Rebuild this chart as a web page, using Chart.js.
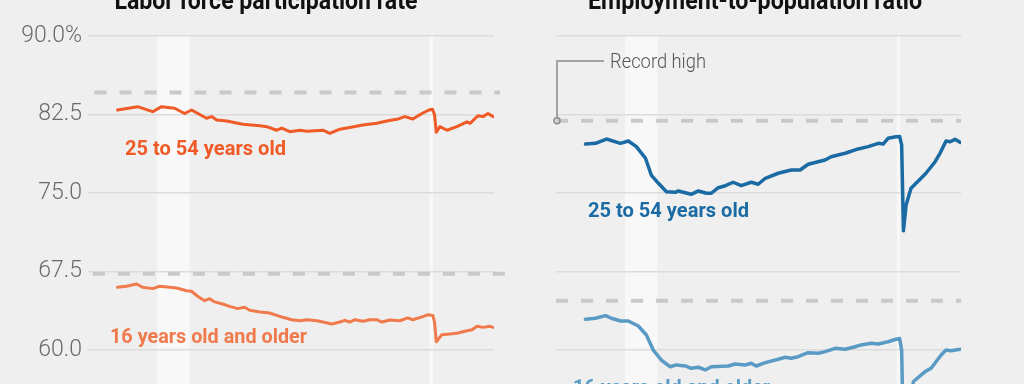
<!DOCTYPE html>
<html>
<head>
<meta charset="utf-8">
<title>Labor force participation and employment-to-population</title>
<script src="https://cdn.jsdelivr.net/npm/chart.js@4.4.1/dist/chart.umd.min.js"></script>
<style>
  html, body { margin: 0; padding: 0; background: #efefef; width: 1024px; height: 384px; overflow: hidden; }
  .panel { position: absolute; top: 0; width: 512px; height: 384px; }
  #left { left: 0; }
  #right { left: 512px; }
</style>
</head>
<body>
<div class="panel" id="left"><canvas id="lfpr" width="512" height="384"></canvas></div>
<div class="panel" id="right"><canvas id="epop" width="512" height="384"></canvas></div>
<script>
// y axis ticks (shared by both panels)
const yTicks = [60, 67.5, 75, 82.5, 90];
const tickLabels = ['60.0', '67.5', '75.0', '82.5', '90.0%'];

// shaded recessions (start, end in years)
const recessions = [[2007.77, 2009.22], [2019.95, 2020.1]];

// record highs: [25 to 54, 16 and older]
const lfprRecords = [84.6, 67.3];
const epopRecords = [81.9, 64.7];

// labor force participation, 25 to 54 years old
const primeLfprDates = [2006.0, 2006.9, 2007.57, 2007.97, 2008.55, 2009.0, 2009.31, 2009.98, 2010.21, 2010.43,
  2010.88, 2011.6, 2012.36, 2012.67, 2013.12, 2013.34, 2013.7, 2014.15, 2014.46, 2015.18, 2015.49, 2015.94,
  2016.38, 2016.97, 2017.59, 2018.04, 2018.49, 2018.85, 2019.2, 2019.61, 2019.92, 2020.08, 2020.17, 2020.25,
  2020.41, 2020.73, 2021.17, 2021.62, 2021.76, 2022.11, 2022.34, 2022.56, 2022.79];
const primeLfpr = [82.93, 83.25, 82.77, 83.25, 83.1, 82.6, 82.93, 82.14, 82.3, 81.98,
  81.88, 81.57, 81.43, 81.34, 81.0, 81.2, 80.86, 81.0, 80.9, 81.0, 80.7, 81.1,
  81.26, 81.5, 81.66, 81.88, 82.04, 82.3, 82.07, 82.6, 82.93, 83.0, 82.5, 80.8,
  81.34, 81.0, 81.34, 81.8, 81.66, 82.38, 82.3, 82.6, 82.3];

// labor force participation, 16 years old and older
const allLfprDates = [2006.0, 2006.4, 2006.85, 2007.12, 2007.57, 2007.88, 2008.33, 2008.64, 2009.09, 2009.31,
  2009.58, 2009.89, 2010.12, 2010.34, 2010.7, 2011.01, 2011.37, 2011.68, 2011.91, 2012.36, 2012.8, 2013.12,
  2013.39, 2013.79, 2014.15, 2014.46, 2014.91, 2015.18, 2015.58, 2015.94, 2016.16, 2016.38, 2016.61, 2016.97,
  2017.28, 2017.59, 2017.82, 2018.18, 2018.62, 2018.98, 2019.2, 2019.65, 2019.88, 2020.1, 2020.17, 2020.25,
  2020.5, 2020.86, 2021.22, 2021.62, 2021.85, 2022.07, 2022.34, 2022.65, 2022.79];
const allLfpr = [66.0, 66.1, 66.31, 66.0, 65.87, 66.1, 66.0, 65.93, 65.67, 65.62,
  65.14, 64.72, 64.91, 64.6, 64.4, 64.18, 63.96, 64.09, 63.8, 63.64, 63.54, 63.32,
  63.13, 62.9, 62.8, 62.9, 62.8, 62.68, 62.49, 62.68, 62.84, 62.68, 62.9, 62.75,
  62.9, 62.9, 62.68, 62.87, 62.8, 63.07, 62.9, 63.2, 63.38, 63.3, 62.7, 60.8,
  61.47, 61.53, 61.63, 61.85, 61.94, 62.27, 62.17, 62.27, 62.17];

// employment-to-population, 25 to 54 years old
const primeEpopDates = [2006.0, 2006.45, 2006.94, 2007.57, 2007.92, 2008.28, 2008.69, 2008.95, 2009.27, 2009.63,
  2010.03, 2010.16, 2010.74, 2011.06, 2011.42, 2011.64, 2011.95, 2012.27, 2012.62, 2012.98, 2013.43, 2013.74,
  2014.06, 2014.64, 2015.22, 2015.62, 2015.98, 2016.74, 2017.01, 2017.64, 2018.22, 2018.67, 2019.12, 2019.34,
  2019.56, 2019.92, 2020.08, 2020.17, 2020.25, 2020.37, 2020.59, 2021.04, 2021.26, 2021.67, 2021.89, 2022.16,
  2022.34, 2022.56, 2022.79];
const primeEpop = [79.68, 79.75, 80.16, 79.75, 79.97, 79.43, 78.32, 76.72, 75.93, 75.13,
  75.07, 75.2, 74.88, 75.2, 74.98, 74.98, 75.51, 75.7, 76.03, 75.7, 76.03, 75.84,
  76.41, 76.89, 77.2, 77.2, 77.75, 78.16, 78.47, 78.8, 79.21, 79.43, 79.75, 79.68,
  80.23, 80.38, 80.4, 79.6, 71.4, 73.86, 75.45, 76.41, 76.89, 77.99, 78.8, 79.97,
  79.9, 80.13, 79.84];

// employment-to-population, 16 years old and older
const allEpopDates = [2006.0, 2006.45, 2006.9, 2007.16, 2007.57, 2007.92, 2008.37, 2008.73, 2009.04, 2009.4,
  2009.8, 2010.07, 2010.48, 2010.74, 2011.06, 2011.37, 2011.64, 2012.4, 2012.71, 2013.16, 2013.43, 2013.65,
  2014.06, 2014.64, 2014.95, 2015.22, 2015.53, 2015.98, 2016.43, 2016.74, 2017.19, 2017.64, 2018.09, 2018.35,
  2018.8, 2019.12, 2019.56, 2019.92, 2020.08, 2020.17, 2020.25, 2020.33, 2020.5, 2020.7, 2021.22, 2021.49,
  2021.94, 2022.16, 2022.38, 2022.79];
const allEpop = [62.94, 63.04, 63.29, 63.04, 62.78, 62.78, 62.3, 61.44, 60.0, 59.05,
  58.41, 58.58, 58.48, 58.26, 58.36, 58.1, 58.41, 58.48, 58.67, 58.58, 58.74, 58.48,
  58.8, 59.12, 59.31, 59.22, 59.37, 59.75, 59.69, 59.85, 60.17, 60.08, 60.32, 60.49,
  60.65, 60.58, 60.8, 61.03, 61.1, 60.0, 51.3, 52.8, 54.8, 57.0, 57.94, 58.26,
  59.53, 60.0, 59.94, 60.08];

const xMin = 2004.68, xMax = 2022.83;
const yMin = 56.76, yMax = 90;
const FONT = 'Roboto, "Open Sans", sans-serif';

const pts = (xs, ys) => xs.map((x, i) => ({ x: x, y: ys[i] }));

function seriesSet(xs, ys, color, width) {
  return {
    data: pts(xs, ys), borderColor: color, borderWidth: width,
    pointRadius: 0, tension: 0, borderJoinStyle: 'round', borderCapStyle: 'round'
  };
}
function recordSet(value, from, to) {
  return {
    data: [{ x: from, y: value }, { x: to, y: value }], borderColor: '#c9c9c9', borderWidth: 4,
    borderDash: [12, 13], pointRadius: 0, clip: false
  };
}

// lighter bands for recessions, drawn under the grid
const bandsPlugin = {
  id: 'bands',
  beforeDraw(chart) {
    const { ctx, chartArea, scales } = chart;
    ctx.save();
    ctx.fillStyle = '#f8f8f8';
    recessions.forEach(([a, b]) => {
      const x1 = scales.x.getPixelForValue(a), x2 = scales.x.getPixelForValue(b);
      ctx.fillRect(x1, chartArea.top, x2 - x1, chartArea.bottom - chartArea.top);
    });
    ctx.restore();
  }
};

function drawText(ctx, text, x, y, font, color, width, align) {
  ctx.save();
  ctx.font = font;
  ctx.fillStyle = color;
  ctx.textBaseline = 'alphabetic';
  const w = ctx.measureText(text).width;
  const sx = width / w;
  ctx.translate(x, y);
  ctx.scale(sx, 1);
  ctx.textAlign = align || 'left';
  ctx.fillText(text, 0, 0);
  ctx.restore();
}

const textPlugin = {
  id: 'texts',
  afterDraw(chart) {
    const { ctx } = chart;
    const o = chart.options.plugins.texts;
    drawText(ctx, o.title, o.titleX, 9, 'bold 26px ' + FONT, '#111', o.titleW, 'center');
    o.labels.forEach(l => drawText(ctx, l.text, l.x, l.y, 'bold 20px ' + FONT, l.color, l.w));
    if (o.record) {
      const { scales } = chart;
      const cx = scales.x.getPixelForValue(xMin) + 1;
      const cy = scales.y.getPixelForValue(epopRecords[0]);
      ctx.save();
      ctx.strokeStyle = '#8a8a8a';
      ctx.lineWidth = 1.5;
      ctx.beginPath();
      ctx.moveTo(cx, cy - 3);
      ctx.lineTo(cx, 61);
      ctx.lineTo(cx + 47, 61);
      ctx.stroke();
      ctx.beginPath();
      ctx.arc(cx, cy, 3, 0, Math.PI * 2);
      ctx.stroke();
      ctx.restore();
      drawText(ctx, 'Record high', cx + 53, 68, '300 21px ' + FONT, '#555', 96);
    }
  }
};

function makeChart(id, datasets, showTicks, padding, texts) {
  return new Chart(document.getElementById(id), {
    type: 'line',
    data: { datasets: datasets },
    plugins: [bandsPlugin, textPlugin],
    options: {
      responsive: false,
      animation: false,
      layout: { padding: padding },
      plugins: { legend: { display: false }, tooltip: { enabled: false }, texts: texts },
      scales: {
        x: { type: 'linear', min: xMin, max: xMax, display: false },
        y: {
          min: yMin, max: yMax,
          afterBuildTicks: s => { s.ticks = yTicks.map(v => ({ value: v })); },
          afterFit: s => {
            s.width = showTicks ? 88 : 0;
            // ticks are inside the range, so no extra room for half labels
            s.paddingTop = 0;
            s.paddingBottom = 0;
          },
          border: { display: false },
          grid: { color: '#dcdcdc', lineWidth: 1.5, drawTicks: false },
          ticks: {
            display: showTicks, padding: 6, color: '#6b6b6b',
            font: { family: FONT, size: 23, weight: '300' },
            callback: v => tickLabels[yTicks.indexOf(v)]
          }
        }
      }
    }
  });
}

makeChart('lfpr', [
  seriesSet(primeLfprDates, primeLfpr, '#ef5a26', 3),
  seriesSet(allLfprDates, allLfpr, '#f17a4c', 3),
  recordSet(lfprRecords[0], 2004.97, 2023.1),
  recordSet(lfprRecords[1], 2004.9, 2023.4)
], true, { left: 0, right: 18, top: 36, bottom: 0 }, {
  title: 'Labor force participation rate', titleX: 266, titleW: 303,
  labels: [
    { text: '25 to 54 years old', x: 125, y: 155, w: 161, color: '#ef5a26' },
    { text: '16 years old and older', x: 110, y: 343, w: 197, color: '#f17a4c' }
  ]
});

makeChart('epop', [
  seriesSet(primeEpopDates, primeEpop, '#1a6aa3', 3.5),
  seriesSet(allEpopDates, allEpop, '#5a9bc5', 3.5),
  recordSet(epopRecords[0], xMin, xMax),
  recordSet(epopRecords[1], xMin, xMax)
], false, { left: 44, right: 63, top: 36, bottom: 0 }, {
  title: 'Employment-to-population ratio', titleX: 243, titleW: 334, record: true,
  labels: [
    { text: '25 to 54 years old', x: 76, y: 217, w: 161, color: '#1a6aa3' },
    { text: '16 years old and older', x: 61, y: 394, w: 197, color: '#5a9bc5' }
  ]
});
</script>
</body>
</html>
